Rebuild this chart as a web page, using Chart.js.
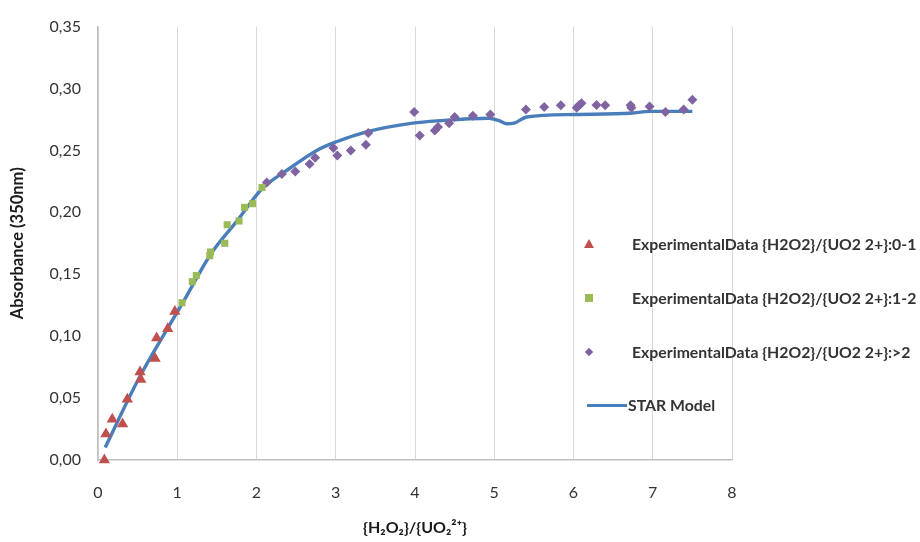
<!DOCTYPE html>
<html>
<head>
<meta charset="utf-8">
<script src="https://cdn.jsdelivr.net/npm/chart.js@4.4.1/dist/chart.umd.min.js"></script>
<style>
  html, body { margin: 0; padding: 0; background: #ffffff; }
  #wrap { position: relative; width: 920px; height: 542px; }
  #legend { position: absolute; left: 582px; top: 0; font-family: Lato, "Open Sans", sans-serif; font-weight: bold; font-size: 15.8px; color: #333; }
  .item { position: absolute; left: 0; white-space: nowrap; height: 20px; line-height: 20px; }
  .mk { position: absolute; top: 10px; }
  .txt { position: absolute; left: 50px; top: 0; }
</style>
</head>
<body>
<div id="wrap">
  <canvas id="c" width="920" height="542"></canvas>
  <div id="legend"></div>
</div>
<script>
// ---- data ----
const seriesLabels = [
  "ExperimentalData {H2O2}/{UO2 2+}:0-1",
  "ExperimentalData {H2O2}/{UO2 2+}:1-2",
  "ExperimentalData {H2O2}/{UO2 2+}:>2",
  "STAR Model"
];
const red01X = [0.08, 0.10, 0.18, 0.31, 0.37, 0.53, 0.54, 0.72, 0.74, 0.88, 0.97];
const red01Y = [0.000, 0.021, 0.033, 0.029, 0.049, 0.071, 0.065, 0.082, 0.0985, 0.106, 0.120];
const green12X = [1.06, 1.19, 1.24, 1.41, 1.42, 1.60, 1.63, 1.78, 1.85, 1.95, 2.07];
const green12Y = [0.127, 0.144, 0.149, 0.165, 0.168, 0.175, 0.190, 0.193, 0.204, 0.207, 0.220];
const purpleX = [2.13, 2.32, 2.49, 2.67, 2.74, 2.97, 3.02, 3.19, 3.38, 3.41, 3.99, 4.06, 4.25, 4.29, 4.43, 4.50, 4.73, 4.95, 5.40,
                 5.63, 5.84, 6.04, 6.07, 6.10, 6.29, 6.40, 6.72, 6.73, 6.96, 7.16, 7.39, 7.50];
const purpleY = [0.224, 0.231, 0.233, 0.239, 0.244, 0.252, 0.246, 0.250, 0.2545, 0.264, 0.281, 0.262, 0.266, 0.269, 0.272, 0.277, 0.278, 0.279, 0.283,
                 0.285, 0.2865, 0.2845, 0.2865, 0.288, 0.2867, 0.2865, 0.2865, 0.2845, 0.2855, 0.281, 0.283, 0.291];
const modelX = [0.09, 0.50, 0.88, 1.07, 1.43, 1.76, 2.07, 2.43, 2.76, 3.01, 3.39, 3.97, 4.31, 4.93, 5.06, 5.16, 5.25, 5.41, 6.02, 6.72, 6.97, 7.50];
const modelY = [0.010, 0.064, 0.1065, 0.127, 0.167, 0.1935, 0.219, 0.236, 0.250, 0.257, 0.265, 0.272, 0.274, 0.276, 0.274, 0.2715, 0.272, 0.277, 0.279, 0.280, 0.2815, 0.2815];
const yTicks = [0, 0.05, 0.10, 0.15, 0.20, 0.25, 0.30, 0.35];
const xTicks = [0, 1, 2, 3, 4, 5, 6, 7, 8];
const yTitle = "Absorbance (350nm)";
const xTitle = "{H\u2082O\u2082}/{UO\u2082\u00B2\u207A}";

const colors = ["#C0504D", "#9BBB59", "#8064A2", "#4A7EBB"];

function pts(xs, ys) { return xs.map((x, i) => ({ x: x, y: ys[i] })); }

const FONT = "Lato, 'Open Sans', sans-serif";

new Chart(document.getElementById("c"), {
  type: "scatter",
  data: {
    datasets: [
      { label: seriesLabels[0], data: pts(red01X, red01Y), pointStyle: "triangle", pointRadius: 6.5, pointHoverRadius: 6.5,
        backgroundColor: colors[0], borderColor: colors[0], borderWidth: 0, clip: false },
      { label: seriesLabels[1], data: pts(green12X, green12Y), pointStyle: "rect", pointRadius: 5, pointHoverRadius: 5,
        backgroundColor: colors[1], borderColor: colors[1], borderWidth: 0, clip: false },
      { label: seriesLabels[2], data: pts(purpleX, purpleY), pointStyle: "rectRot", pointRadius: 5, pointHoverRadius: 5,
        backgroundColor: colors[2], borderColor: colors[2], borderWidth: 0, clip: false },
      { label: seriesLabels[3], type: "line", data: pts(modelX, modelY), showLine: true, pointRadius: 0,
        borderColor: colors[3], borderWidth: 3.4, tension: 0.4, cubicInterpolationMode: "monotone", fill: false, clip: false }
    ]
  },
  options: {
    responsive: false,
    animation: false,
    events: [],
    layout: { padding: { left: 0, right: 188, top: 23, bottom: 0 } },
    plugins: { legend: { display: false }, tooltip: { enabled: false } },
    scales: {
      x: {
        type: "linear", min: 0, max: 8,
        afterFit: s => { s.height = 82; },
        afterBuildTicks: s => { s.ticks = xTicks.map(v => ({ value: v })); },
        ticks: { padding: 23, color: "#333", font: { family: FONT, size: 16 }, callback: v => String(v) },
        grid: { display: true, color: "#d9d9d9", lineWidth: 1, drawTicks: false },
        border: { display: true, color: "#bfbfbf", width: 1.5 },
        title: { display: true, text: xTitle, color: "#1a1a1a", font: { family: FONT, size: 16, weight: "bold" }, padding: { top: 8, bottom: 5 } }
      },
      y: {
        type: "linear", min: 0, max: 0.35,
        afterFit: s => { s.width = 98; },
        afterBuildTicks: s => { s.ticks = yTicks.map(v => ({ value: v })); },
        ticks: { padding: 17, color: "#333", font: { family: FONT, size: 16 }, callback: v => Number(v).toFixed(2).replace(".", ",") },
        grid: { display: false, drawTicks: false },
        border: { display: true, color: "#bfbfbf", width: 1.5 },
        title: { display: true, text: yTitle, color: "#1a1a1a", font: { family: FONT, size: 16.5, weight: "bold" }, padding: { top: 8, bottom: 0 } }
      }
    }
  }
});

// ---- HTML legend ----
const legendTops = [244, 298, 352, 405];
const lg = document.getElementById("legend");
seriesLabels.forEach((lab, i) => {
  const it = document.createElement("div");
  it.className = "item";
  it.style.top = (legendTops[i] - 10) + "px";
  const mk = document.createElement("div");
  mk.className = "mk";
  if (i === 0) {
    Object.assign(mk.style, { left: "2px", top: "5px", width: "0", height: "0", borderLeft: "5px solid transparent", borderRight: "5px solid transparent", borderBottom: "9px solid " + colors[0] });
  } else if (i === 1) {
    Object.assign(mk.style, { left: "3px", top: "6px", width: "8px", height: "8px", background: colors[1] });
  } else if (i === 2) {
    Object.assign(mk.style, { left: "4px", top: "7px", width: "6px", height: "6px", background: colors[2], transform: "rotate(45deg)" });
  } else {
    Object.assign(mk.style, { left: "5px", top: "9px", width: "40px", height: "3px", background: colors[3] });
  }
  const tx = document.createElement("div");
  tx.className = "txt";
  tx.textContent = lab;
  if (i === 3) tx.style.left = "46px";
  it.appendChild(mk);
  it.appendChild(tx);
  lg.appendChild(it);
});
</script>
</body>
</html>
